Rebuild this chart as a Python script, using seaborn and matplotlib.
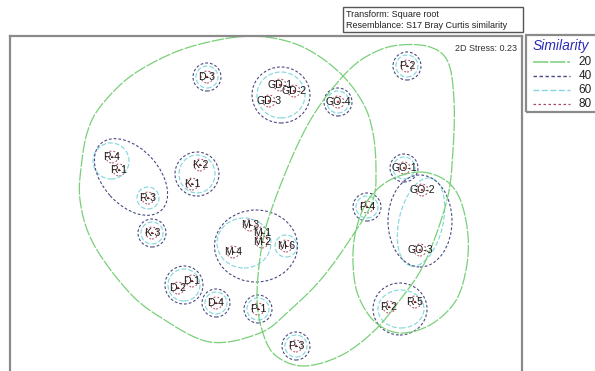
import numpy as np
import pandas as pd
import seaborn as sns
import matplotlib
matplotlib.use("Agg")
import matplotlib.pyplot as plt
from matplotlib.patches import Ellipse, Rectangle
from matplotlib.lines import Line2D

# --- MDS ordination: sample labels and 2-D coordinates ---
samples = ["D-3", "GD-1", "GD-2", "GD-3", "GO-4", "P-2", "R-4", "R-1", "R-3",
           "K-2", "K-1", "K-3", "M-3", "M-1", "M-2", "M-4", "M-6", "D-1", "D-2",
           "D-4", "P-1", "P-3", "P-4", "GO-1", "GO-2", "GO-3", "R-2", "R-5"]
mds_x = [-0.59, 0.14, 0.28, 0.03, 0.72, 1.41, -1.54, -1.47, -1.18,
         -0.66, -0.74, -1.14, -0.16, -0.04, -0.04, -0.33, 0.20, -0.74, -0.88,
         -0.50, -0.08, 0.30, 1.01, 1.38, 1.56, 1.54, 1.23, 1.49]
mds_y = [1.27, 1.19, 1.13, 1.03, 1.02, 1.38, 0.47, 0.34, 0.06,
         0.39, 0.20, -0.29, -0.21, -0.29, -0.38, -0.48, -0.42, -0.77, -0.84,
         -0.99, -1.05, -1.42, -0.03, 0.36, 0.14, -0.46, -1.03, -0.98]

similarity_levels = [20, 40, 60, 80]
stress = 0.23

# single-sample clusters at each similarity level
singles_40 = ["D-3", "GO-4", "P-2", "K-3", "D-4", "P-1", "P-3", "GO-1", "P-4"]
singles_60 = ["D-3", "GO-4", "P-2", "R-3", "K-3", "M-6", "D-4", "P-1", "P-3",
              "GO-1", "P-4"]
singles_80 = samples

# multi-sample cluster outlines (centre x, centre y, width, height, angle)
clusters_60 = [(0.15, 1.09, 0.48, 0.46, 0), (-1.55, 0.43, 0.36, 0.36, 0),
               (-0.69, 0.30, 0.36, 0.38, 0), (-0.22, -0.39, 0.54, 0.50, 0),
               (-0.82, -0.81, 0.32, 0.32, 0), (1.55, -0.18, 0.44, 0.90, -13),
               (1.35, -1.05, 0.46, 0.38, 0)]
clusters_40 = [(0.15, 1.09, 0.58, 0.56, 0), (-1.35, 0.27, 0.90, 0.56, -48),
               (-0.69, 0.30, 0.44, 0.44, 0), (-0.10, -0.42, 0.83, 0.72, 0),
               (-0.82, -0.81, 0.38, 0.38, 0), (1.54, -0.17, 0.64, 0.92, 0),
               (1.34, -1.05, 0.54, 0.52, 0)]

# 20 % similarity outlines (vertices of smooth closed curves)
outline_a_x = [-0.29, 0.07, 0.41, 0.74, 0.97, 1.07, 1.10, 1.07, 0.89, 0.57, 0.24,
               -0.06, -0.56, -1.06, -1.39, -1.73, -1.86, -1.84, -1.78, -1.66,
               -1.39, -1.06, -0.73]
outline_a_y = [1.67, 1.66, 1.55, 1.31, 1.01, 0.71, 0.34, 0.04, -0.28, -0.73, -1.06,
               -1.29, -1.38, -1.13, -0.86, -0.39, 0.04, 0.44, 0.74, 0.97,
               1.25, 1.45, 1.58]
outline_b_x = [1.34, 1.64, 1.82, 1.88, 1.87, 1.81, 1.59, 1.34, 1.07, 0.74,
               0.37, 0.09, -0.04, -0.09, -0.04, 0.07, 0.31, 0.54, 0.84, 1.09]
outline_b_y = [1.59, 1.57, 1.42, 1.04, 0.54, 0.04, -0.58, -0.96, -1.28, -1.52,
               -1.62, -1.51, -1.26, -0.91, -0.41, -0.01, 0.58, 0.99, 1.35, 1.52]
outline_c_x = [1.54, 1.79, 1.94, 2.02, 2.00, 1.89, 1.64, 1.34, 1.09, 0.92,
               0.87, 0.90, 1.02, 1.24]
outline_c_y = [0.32, 0.24, 0.05, -0.31, -0.66, -0.98, -1.21, -1.29, -1.18, -0.91,
               -0.58, -0.26, 0.04, 0.24]

# contour styles
styles = {
    20: dict(color="#78d078", lw=0.9, dashes=(10, 1.2)),
    40: dict(color="#4a4a82", lw=0.8, dashes=(2.5, 1.8)),
    60: dict(color="#86d8de", lw=0.85, dashes=(4, 1.8)),
    80: dict(color="#a84a62", lw=0.7, dashes=(2, 2)),
}
radius = {40: 0.14, 60: 0.11, 80: 0.06}


def closed_spline(xs, ys, n=24):
    pts = np.column_stack([xs, ys])
    m = len(pts)
    t = np.linspace(0, 1, n, endpoint=False)[:, None]
    segs = []
    for i in range(m):
        p0, p1, p2, p3 = pts[(i - 1) % m], pts[i], pts[(i + 1) % m], pts[(i + 2) % m]
        segs.append(0.5 * (2 * p1 + (-p0 + p2) * t
                           + (2 * p0 - 5 * p1 + 4 * p2 - p3) * t ** 2
                           + (-p0 + 3 * p1 - 3 * p2 + p3) * t ** 3))
    out = np.vstack(segs)
    return np.vstack([out, out[:1]])


sns.set_theme(style="white")
plt.rcParams["font.family"] = ["Liberation Sans", "DejaVu Sans"]

W, H = 595, 371
fig = plt.figure(figsize=(W / 100, H / 100), dpi=100)
ax = fig.add_axes([10 / W, 1 - 373 / H, 512 / W, 337 / H])

df = pd.DataFrame({"x": mds_x, "y": mds_y, "sample": samples})
pos = df.set_index("sample")


def add_ellipse(cx, cy, w, h, ang, level):
    st = styles[level]
    e = Ellipse((cx, cy), w, h, angle=ang, fill=False, edgecolor=st["color"],
                lw=st["lw"], linestyle=(0, st["dashes"]), zorder=2)
    ax.add_patch(e)


# similarity contours around clusters
for level, singles, groups in [(80, singles_80, []), (60, singles_60, clusters_60),
                               (40, singles_40, clusters_40)]:
    for s in singles:
        r = radius[level]
        add_ellipse(pos.loc[s, "x"], pos.loc[s, "y"], 2 * r, 2 * r, 0, level)
    for cx, cy, w, h, ang in groups:
        add_ellipse(cx, cy, w, h, ang, level)

for xs, ys in [(outline_a_x, outline_a_y), (outline_b_x, outline_b_y),
               (outline_c_x, outline_c_y)]:
    curve = closed_spline(xs, ys)
    st = styles[20]
    sns.lineplot(x=curve[:, 0], y=curve[:, 1], sort=False, estimator=None, ax=ax,
                 color=st["color"], lw=st["lw"], dashes=False, zorder=2)
    ax.lines[-1].set_dashes(st["dashes"])

# sample positions and labels
sns.scatterplot(data=df, x="x", y="y", ax=ax, s=3, color="#b04040",
                edgecolor="none", zorder=3, legend=False)
for s, x, y in zip(samples, mds_x, mds_y):
    ax.text(x, y, s, ha="center", va="center", fontsize=7.6, color="#1a1a1a",
            zorder=4)

ax.set_xlim(-2.56, 2.56)
ax.set_ylim(-1.69, 1.68)
ax.set_xticks([])
ax.set_yticks([])
ax.set_xlabel("")
ax.set_ylabel("")
for sp in ax.spines.values():
    sp.set_color("#8a8a8a")
    sp.set_linewidth(1.6)

ax.text(0.99, 0.975, f"2D Stress: {stress:.2f}", transform=ax.transAxes,
        ha="right", va="top", fontsize=6.5, color="#333333")

# header box
fig.text(346 / W, 1 - 20 / H,
         "Transform: Square root\nResemblance: S17 Bray Curtis similarity",
         ha="left", va="center", fontsize=6.5, color="#222222", linespacing=1.15)
fig.patches.append(Rectangle((343 / W, 1 - 32 / H), 180 / W, 25 / H,
                             transform=fig.transFigure, fill=False,
                             edgecolor="#555555", lw=1.0))

# legend box
fig.patches.append(Rectangle((526 / W, 1 - 112 / H), 80 / W, 77 / H,
                             transform=fig.transFigure, fill=False,
                             edgecolor="#8a8a8a", lw=1.6))
fig.text(561 / W, 1 - 46 / H, "Similarity", ha="center", va="center",
         fontsize=10, style="italic", color="#2b2bb5")
for i, level in enumerate(similarity_levels):
    yy = 1 - (62 + 14 * i) / H
    st = styles[level]
    ln = Line2D([533 / W, 570 / W], [yy, yy], transform=fig.transFigure,
                color=st["color"], lw=st["lw"] + 0.2)
    ln.set_dashes(st["dashes"])
    fig.lines.append(ln)
    fig.text(592 / W, yy, str(level), ha="right", va="center", fontsize=8.5,
             color="#222222")

fig.savefig("out.png", dpi=100)
